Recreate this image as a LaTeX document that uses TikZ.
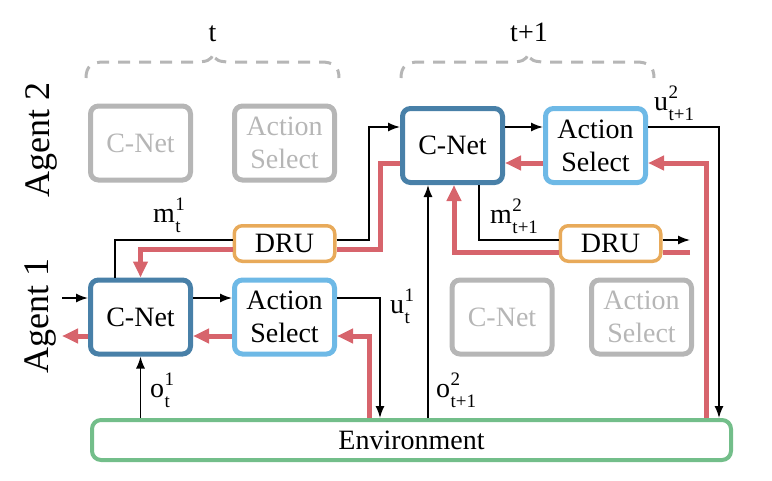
\documentclass[tikz,border=0pt]{standalone}
\usepackage{fontspec}
\setmainfont{Liberation Serif}
\usetikzlibrary{arrows.meta}
\definecolor{cnet}{RGB}{72,128,168}
\definecolor{asel}{RGB}{110,185,230}
\definecolor{dru}{RGB}{232,170,90}
\definecolor{envc}{RGB}{115,190,138}
\definecolor{grad}{RGB}{215,100,108}
\definecolor{ghost}{RGB}{182,182,182}
\newcommand{\scriptlbl}[3]{#1\kern0.5pt\rlap{\raisebox{12pt}{\fontsize{19}{19}\selectfont #2}}\raisebox{-10pt}{\fontsize{19}{19}\selectfont #3}}
\begin{document}
\begin{tikzpicture}[x=1pt,y=-1pt,
  box/.style={draw,rounded corners=8pt,minimum width=100pt,minimum height=74pt,align=center,font=\rmfamily\fontsize{28}{33}\selectfont,inner sep=0pt},
  cnetbox/.style={box,draw=cnet,line width=5pt},
  aselbox/.style={box,draw=asel,line width=5pt},
  ghostbox/.style={box,draw=ghost,text=ghost,line width=5pt},
  drubox/.style={draw=dru,line width=3.5pt,rounded corners=8pt,minimum width=100.5pt,minimum height=35.5pt,font=\rmfamily\fontsize{28}{33}\selectfont,inner sep=0pt},
  envbox/.style={draw=envc,line width=4pt,rounded corners=9pt,minimum width=639pt,minimum height=40pt,font=\rmfamily\fontsize{28}{33}\selectfont,inner sep=0pt},
  sig/.style={line width=1.5pt,-{Latex[length=12pt,width=9pt]}},
  sigline/.style={line width=1.5pt},
  gr/.style={line width=5pt,draw=grad,-{Triangle[length=16pt,width=14pt]}},
  grline/.style={line width=5pt,draw=grad},
  lab/.style={inner sep=0pt,anchor=base west,font=\rmfamily\fontsize{28}{33}\selectfont},
  agentlbl/.style={inner sep=0pt,rotate=90,font=\rmfamily\fontsize{36}{40}\selectfont},
  bracestyle/.style={draw=ghost,line width=3pt,dash pattern=on 12pt off 9pt}
]
\useasboundingbox (0,0) rectangle (772,480);

% boxes
\node[cnetbox] (C1) at (140.5,317) {C-Net};
\node[aselbox] (A1) at (284.5,317) {Action\\Select};
\node[ghostbox] (gC1) at (140.5,143) {C-Net};
\node[ghostbox] (gA1) at (284.5,143) {Action\\Select};
\node[cnetbox] (C2) at (452.5,145.5) {C-Net};
\node[aselbox] (A2) at (595.5,145.5) {Action\\Select};
\node[ghostbox] (gC2) at (502,317) {C-Net};
\node[ghostbox] (gA2) at (641.5,317) {Action\\Select};
\node[drubox] (D1) at (284.5,243.5) {DRU};
\node[drubox] (D2) at (610.5,243.5) {DRU};
\node[envbox] (E) at (411.5,440) {Environment};

% labels
\node[agentlbl] (ag2) at (41,140) {Agent 2};
\node[agentlbl] (ag1) at (41,316) {Agent 1};
\node[lab,anchor=base] (tl) at (212.5,41) {t};
\node[lab,anchor=base] (t1l) at (529,41) {t+1};
\node[lab] (m1) at (153,222) {\scriptlbl{m}{1}{t}};
\node[lab] (m2) at (490,223) {\scriptlbl{m}{2}{t+1}};
\node[lab] (u1) at (390,313) {\scriptlbl{u}{1}{t}};
\node[lab] (u2) at (654,110) {\scriptlbl{u}{2}{t+1}};
\node[lab] (o1) at (150,397) {\scriptlbl{o}{1}{t}};
\node[lab] (o2) at (436,397) {\scriptlbl{o}{2}{t+1}};

% braces
\draw[bracestyle] (86,78) .. controls (86,66) and (92,62) .. (104,62) -- (193,62)
  .. controls (206,62) and (212,61) .. (213,53) .. controls (214,61) and (220,62) .. (233,62)
  -- (321,62) .. controls (333,62) and (339,66) .. (339,78);
\draw[bracestyle,xshift=315pt] (86,78) .. controls (86,66) and (92,62) .. (104,62) -- (193,62)
  .. controls (206,62) and (212,61) .. (213,53) .. controls (214,61) and (220,62) .. (233,62)
  -- (321,62) .. controls (333,62) and (339,66) .. (339,78);

% helper coordinates
\coordinate (in1) at (62,298);
\coordinate (out1) at (62,336);
\coordinate (yr1) at (0,336);
\coordinate (yb2) at (0,127);
\coordinate (yr2) at (0,163);
\coordinate (ym) at (0,240);
\coordinate (ygr1) at (0,249);
\coordinate (ygr2) at (0,252);
\coordinate (xu1) at (380,0);
\coordinate (xr1) at (369,0);
\coordinate (xo2) at (428,0);
\coordinate (xm1) at (115,0);
\coordinate (xm2) at (479,0);
\coordinate (xu2) at (719,0);
\coordinate (xr2) at (706,0);
\coordinate (xr3) at (454,0);
\coordinate (xend) at (690,0);

% gradient (red) paths
\draw[gr] (xr1 |- E.north) |- (A1.east |- yr1);
\draw[gr] (A1.west |- yr1) -- (C1.east |- yr1);
\draw[gr] (C1.west |- yr1) -- (out1);
\draw[grline] (C2.west |- yr2) -| (xu1 |- ygr1) -- (D1.east |- ygr1);
\draw[gr] (D1.west |- ygr1) -| (C1.north);
\draw[gr] (A2.west |- yr2) -- (C2.east |- yr2);
\draw[gr] (xr2 |- E.north) |- (A2.east |- yr2);
\draw[grline] (xend |- ygr2) -- (D2.east |- ygr2);
\draw[gr] (D2.west |- ygr2) -| (xr3 |- C2.south);

% signal (black) paths
\draw[sig] (in1) -- (in1 -| C1.west);
\draw[sig] (C1.east |- in1) -- (A1.west |- in1);
\draw[sig] (A1.east |- in1) -| (xu1 |- E.north);
\draw[sig] (E.north -| C1) -- (C1.south);
\draw[sig] (xo2 |- E.north) -- (xo2 |- C2.south);
\draw[sigline] (xm1 |- C1.north) -- (xm1 |- ym) -- (D1.west |- ym);
\draw[sig] (D1.east |- ym) -| (xr1 |- yb2) -- (C2.west |- yb2);
\draw[sig] (C2.east |- yb2) -- (A2.west |- yb2);
\draw[sig] (A2.east |- yb2) -| (xu2 |- E.north);
\draw[sigline] (xm2 |- C2.south) -- (xm2 |- ym) -- (D2.west |- ym);
\draw[sig] (D2.east |- ym) -- (xend |- ym);
\end{tikzpicture}
\end{document}
